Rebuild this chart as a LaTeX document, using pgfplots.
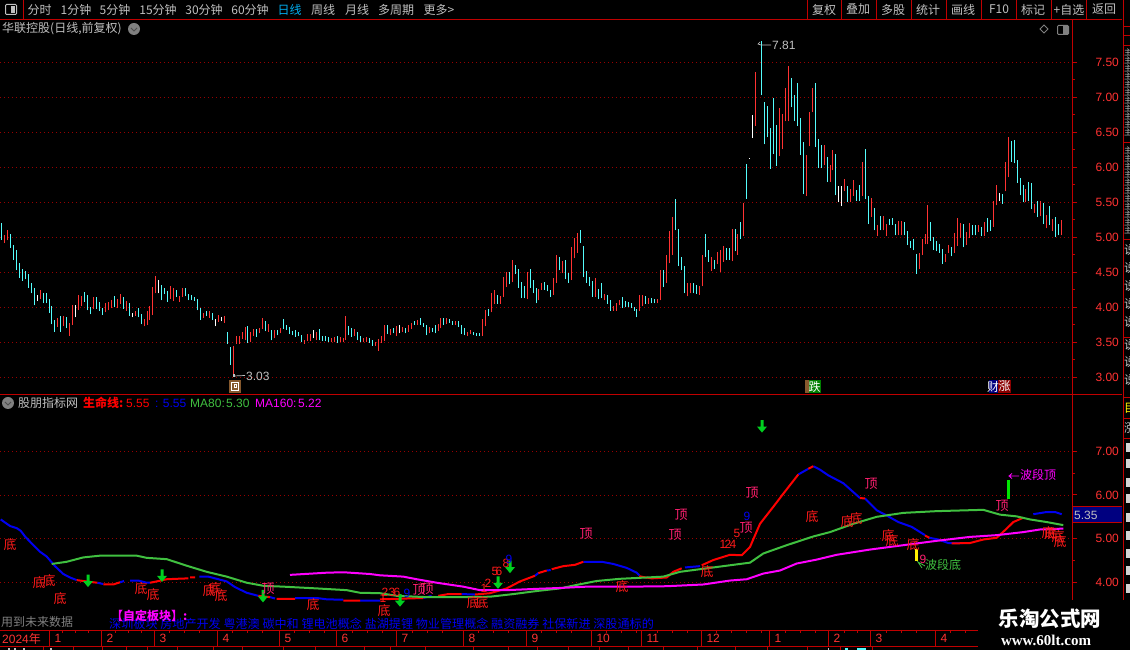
\documentclass[border=0pt]{standalone}
\usepackage{fontspec}
\usepackage{pgfplots}
\usepackage{pgfplotstable}
\pgfplotsset{compat=1.18}
\setmainfont{Liberation Sans}
\newfontfamily\cjk{Noto Sans CJK SC}
\newfontfamily\lib{Liberation Sans}
\newfontfamily\libs{Liberation Serif}
\definecolor{axred}{HTML}{C00000}
\definecolor{gridred}{HTML}{980000}
\definecolor{lblred}{HTML}{FF3232}
\definecolor{kred}{HTML}{FF3232}
\definecolor{kcyan}{HTML}{54FCFC}
\definecolor{lgreen}{HTML}{40C040}
\definecolor{lblue}{HTML}{0000F0}
\definecolor{lmag}{HTML}{FF00FF}
\definecolor{txtgray}{HTML}{C0C0C0}
\definecolor{ding}{HTML}{FF2070}
\definecolor{di}{HTML}{FF1A1A}
\definecolor{arrowgreen}{HTML}{00D020}
\pgfdeclareplotmark{dnarrow}{%
  \pgfpathmoveto{\pgfqpoint{0pt}{0pt}}
  \pgfpathlineto{\pgfqpoint{-5pt}{6pt}}
  \pgfpathlineto{\pgfqpoint{-1.5pt}{6pt}}
  \pgfpathlineto{\pgfqpoint{-1.5pt}{12.5pt}}
  \pgfpathlineto{\pgfqpoint{1.5pt}{12.5pt}}
  \pgfpathlineto{\pgfqpoint{1.5pt}{6pt}}
  \pgfpathlineto{\pgfqpoint{5pt}{6pt}}
  \pgfpathclose
  \pgfusepathqfill}

\pgfplotstableread{
x lo hi
4.5 4.92 5.03
7.5 4.96 5.11
40.5 4.12 4.25
57.5 3.72 3.85
63.5 3.73 3.88
69.5 3.59 3.78
72.5 3.75 4.03
78.5 3.96 4.18
81.5 4.02 4.16
93.5 3.98 4.15
105.5 3.93 4.06
108.5 3.96 4.08
111.5 3.99 4.10
117.5 3.99 4.12
120.5 4.05 4.19
126.5 3.95 4.09
135.5 3.88 3.95
144.5 3.73 3.83
147.5 3.75 3.95
149.5 3.82 4.02
152.5 3.89 4.29
155.5 4.20 4.45
170.5 4.12 4.30
173.5 4.09 4.28
179.5 4.08 4.16
182.5 4.15 4.28
203.5 3.85 3.92
209.5 3.85 3.95
218.5 3.79 3.89
224.5 3.78 3.88
233.5 3.03 3.45
236.5 3.48 3.59
239.5 3.48 3.59
242.5 3.55 3.65
245.5 3.53 3.72
250.5 3.50 3.65
253.5 3.59 3.69
259.5 3.63 3.70
262.5 3.69 3.85
268.5 3.65 3.76
274.5 3.56 3.68
280.5 3.63 3.70
304.5 3.48 3.53
307.5 3.52 3.62
310.5 3.52 3.62
316.5 3.53 3.65
331.5 3.50 3.56
334.5 3.50 3.58
340.5 3.50 3.58
343.5 3.50 3.56
345.5 3.53 3.88
354.5 3.59 3.69
363.5 3.50 3.56
366.5 3.50 3.58
375.5 3.45 3.50
378.5 3.38 3.55
381.5 3.49 3.59
384.5 3.52 3.75
390.5 3.60 3.69
396.5 3.59 3.73
402.5 3.65 3.72
408.5 3.65 3.75
411.5 3.69 3.78
417.5 3.75 3.82
429.5 3.63 3.72
438.5 3.66 3.76
440.5 3.70 3.85
446.5 3.76 3.85
455.5 3.75 3.80
467.5 3.59 3.65
470.5 3.62 3.68
482.5 3.59 3.83
485.5 3.73 3.96
491.5 3.93 4.20
494.5 4.05 4.25
500.5 4.05 4.16
503.5 4.15 4.43
506.5 4.29 4.50
512.5 4.36 4.68
527.5 4.12 4.50
538.5 4.10 4.26
541.5 4.25 4.35
553.5 4.18 4.42
556.5 4.35 4.75
562.5 4.49 4.66
571.5 4.39 4.86
574.5 4.70 4.99
577.5 4.78 5.06
595.5 4.15 4.42
604.5 4.10 4.19
613.5 3.95 4.02
616.5 3.95 4.06
619.5 4.03 4.10
639.5 3.95 4.18
642.5 4.02 4.18
648.5 4.05 4.13
657.5 4.06 4.12
660.5 4.10 4.53
666.5 4.35 4.75
669.5 4.63 5.09
672.5 4.75 5.29
687.5 4.16 4.35
690.5 4.20 4.35
699.5 4.18 4.30
702.5 4.30 4.75
711.5 4.52 4.72
717.5 4.62 4.79
720.5 4.50 4.82
723.5 4.65 4.88
732.5 4.66 5.12
737.5 4.75 5.05
743.5 5.02 5.49
755.5 6.59 7.36
779.5 6.16 6.85
782.5 6.26 6.76
785.5 6.66 7.13
788.5 6.66 7.45
806.5 5.59 6.18
809.5 6.30 6.79
812.5 6.79 7.13
824.5 6.03 6.32
830.5 5.79 6.03
832.5 5.96 6.25
844.5 5.66 5.83
850.5 5.50 5.69
853.5 5.59 5.82
862.5 5.59 6.08
871.5 5.29 5.56
877.5 5.02 5.18
883.5 5.10 5.30
886.5 5.02 5.19
898.5 5.03 5.23
901.5 5.03 5.23
919.5 4.55 4.78
922.5 4.75 4.98
925.5 4.90 5.05
927.5 4.90 5.46
945.5 4.65 4.76
948.5 4.78 4.89
954.5 4.78 5.06
957.5 4.88 5.28
960.5 4.99 5.20
966.5 4.89 5.08
969.5 4.99 5.20
978.5 5.08 5.18
984.5 5.02 5.22
993.5 5.15 5.52
996.5 5.46 5.75
1005.5 5.66 6.08
1008.5 5.86 6.43
1025.5 5.50 5.69
1034.5 5.35 5.48
1040.5 5.30 5.52
1046.5 5.13 5.32
1052.5 5.09 5.26
1061.5 5.03 5.25
}\kred
\pgfplotstableread{
x lo hi
1.5 4.97 5.21
10.5 4.85 5.05
13.5 4.68 4.89
16.5 4.53 4.82
19.5 4.42 4.63
22.5 4.38 4.55
25.5 4.40 4.52
28.5 4.28 4.48
31.5 4.20 4.35
34.5 4.03 4.28
43.5 4.06 4.20
46.5 4.06 4.20
49.5 3.92 4.12
51.5 3.76 4.02
54.5 3.65 3.82
60.5 3.65 3.88
66.5 3.70 3.86
84.5 4.08 4.22
87.5 3.96 4.18
90.5 3.90 4.00
96.5 3.98 4.15
99.5 3.95 4.08
102.5 3.89 3.99
114.5 4.00 4.16
123.5 3.98 4.15
129.5 3.88 4.06
138.5 3.86 3.99
141.5 3.76 3.90
161.5 4.10 4.32
164.5 4.19 4.28
167.5 4.08 4.23
176.5 4.15 4.25
185.5 4.16 4.28
188.5 4.10 4.19
191.5 4.10 4.18
194.5 4.09 4.15
197.5 3.96 4.12
200.5 3.82 3.99
206.5 3.88 3.95
212.5 3.82 3.92
227.5 3.48 3.65
230.5 3.18 3.43
247.5 3.49 3.73
256.5 3.58 3.69
265.5 3.66 3.80
271.5 3.53 3.68
277.5 3.60 3.68
283.5 3.69 3.83
286.5 3.68 3.75
289.5 3.62 3.72
292.5 3.60 3.66
295.5 3.58 3.68
298.5 3.59 3.65
301.5 3.50 3.60
319.5 3.53 3.69
322.5 3.52 3.59
325.5 3.52 3.59
328.5 3.50 3.58
337.5 3.49 3.59
348.5 3.60 3.73
351.5 3.58 3.70
357.5 3.53 3.65
360.5 3.50 3.59
369.5 3.49 3.56
372.5 3.45 3.53
387.5 3.62 3.75
393.5 3.63 3.70
405.5 3.63 3.70
414.5 3.75 3.80
420.5 3.75 3.85
423.5 3.72 3.78
426.5 3.60 3.75
432.5 3.65 3.70
435.5 3.63 3.75
443.5 3.75 3.85
449.5 3.78 3.83
452.5 3.75 3.80
458.5 3.72 3.80
461.5 3.62 3.75
464.5 3.60 3.70
473.5 3.60 3.65
476.5 3.59 3.63
479.5 3.59 3.63
488.5 3.88 3.98
497.5 4.05 4.18
509.5 4.33 4.50
515.5 4.48 4.60
518.5 4.28 4.55
521.5 4.13 4.36
524.5 4.13 4.30
530.5 4.28 4.55
533.5 4.20 4.39
536.5 4.06 4.28
544.5 4.25 4.36
547.5 4.23 4.32
550.5 4.15 4.25
559.5 4.53 4.72
565.5 4.40 4.68
568.5 4.35 4.49
580.5 4.92 5.10
583.5 4.43 4.88
586.5 4.35 4.52
589.5 4.30 4.43
592.5 4.15 4.38
598.5 4.12 4.26
601.5 4.13 4.35
607.5 4.05 4.18
610.5 3.95 4.10
622.5 3.99 4.15
625.5 4.00 4.09
628.5 4.00 4.08
631.5 3.99 4.06
634.5 3.95 4.00
636.5 3.86 3.98
645.5 4.05 4.16
651.5 4.06 4.13
654.5 4.06 4.12
663.5 4.29 4.53
675.5 5.10 5.55
678.5 4.59 5.12
681.5 4.53 4.72
684.5 4.20 4.59
693.5 4.20 4.35
696.5 4.19 4.32
705.5 4.72 5.05
708.5 4.65 4.82
714.5 4.55 4.68
726.5 4.68 4.85
729.5 4.68 4.85
735.5 4.80 5.12
740.5 4.98 5.22
746.5 5.55 6.05
761.5 7.03 7.81
764.5 6.33 6.93
767.5 6.43 6.88
770.5 5.98 6.56
773.5 6.19 6.99
776.5 6.02 6.60
791.5 6.86 7.28
794.5 6.66 7.03
797.5 6.59 7.20
800.5 6.18 6.70
803.5 5.62 6.36
815.5 6.29 7.20
818.5 5.99 6.40
821.5 5.99 6.32
827.5 5.79 6.15
835.5 5.60 6.19
847.5 5.50 5.73
856.5 5.52 5.68
859.5 5.52 5.75
865.5 5.55 6.26
868.5 5.19 5.59
874.5 5.10 5.42
880.5 5.10 5.30
889.5 5.18 5.26
892.5 5.18 5.28
895.5 5.03 5.19
904.5 5.03 5.22
907.5 4.89 5.09
910.5 4.85 4.95
913.5 4.82 4.98
916.5 4.48 4.76
930.5 4.95 5.22
933.5 4.82 5.00
936.5 4.80 4.95
939.5 4.78 4.90
942.5 4.62 4.83
951.5 4.73 4.86
963.5 4.86 5.19
972.5 5.03 5.18
975.5 5.03 5.18
981.5 5.02 5.15
987.5 5.08 5.28
990.5 5.09 5.25
1002.5 5.48 5.62
1011.5 6.08 6.38
1014.5 6.06 6.39
1017.5 5.78 6.10
1020.5 5.60 5.85
1023.5 5.50 5.75
1028.5 5.52 5.79
1031.5 5.40 5.78
1037.5 5.29 5.52
1043.5 5.19 5.49
1049.5 5.18 5.45
1055.5 5.00 5.29
1058.5 5.03 5.19
}\kcy
\pgfplotstableread{
x lo hi
37.5 4.09 4.18
75.5 3.86 4.03
132.5 3.86 3.92
158.5 4.20 4.39
215.5 3.73 3.83
221.5 3.80 3.86
313.5 3.56 3.68
399.5 3.63 3.75
749.5 6.12 6.14
752.5 6.42 6.75
838.5 5.50 5.73
841.5 5.45 5.73
999.5 5.52 5.63
}\kwh

\pgfplotstableread{
x y
0.7 5.44
5 5.37
10 5.29
16.7 5.24
20.7 5.18
25 5.05
31.7 4.89
40 4.70
46.7 4.59
55 4.37
63.3 4.19
70 4.11
76.7 4.05
nan nan
97.3 3.99
103.3 3.96
nan nan
120 4.00
124 4.03
nan nan
130 4.04
138.3 4.04
146.7 3.99
150 3.99
nan nan
199.3 4.13
208.3 4.13
216.7 4.08
226.7 4.02
235 3.89
246.7 3.76
258.3 3.69
nan nan
270 3.66
275 3.63
nan nan
295 3.64
316.7 3.64
326.7 3.61
343.3 3.60
nan nan
360 3.58
380 3.58
nan nan
423.3 3.64
431.7 3.69
nan nan
461.7 3.73
475 3.72
nan nan
535 4.15
538.3 4.21
nan nan
546.7 4.27
550.7 4.28
nan nan
583.3 4.47
601.7 4.47
613.3 4.42
626.7 4.33
636.7 4.22
639.3 4.16
nan nan
685 4.34
700 4.37
nan nan
798.3 6.47
808.3 6.60
nan nan
813.3 6.66
820 6.58
828.3 6.45
843.3 6.27
860 5.93
nan nan
865 5.92
876.7 5.65
886.7 5.53
898.3 5.38
911.7 5.27
925 5.08
nan nan
929.3 5.02
938.3 4.98
948.3 4.90
963.3 4.90
nan nan
1033.3 5.56
1046.7 5.61
1055 5.61
1061.7 5.56
}\lifeblue
\pgfplotstableread{
x y
76.7 4.05
83.3 4.03
90 4.01
97.3 3.99
nan nan
103.3 3.95
113.3 3.95
120 4.00
nan nan
150 3.99
156.7 4.02
166.7 4.07
176.7 4.08
188.3 4.09
nan nan
190 4.11
195 4.11
nan nan
258.3 3.69
270 3.66
nan nan
276.7 3.62
295 3.62
nan nan
343.3 3.58
360 3.58
nan nan
380 3.61
423.3 3.64
nan nan
438.3 3.69
448.3 3.73
461.7 3.73
nan nan
475 3.72
490 3.75
506.7 3.86
520 4.02
535 4.15
nan nan
538.3 4.21
546.7 4.27
nan nan
551.7 4.30
563.3 4.37
575 4.40
583.3 4.47
nan nan
639.3 4.14
643.3 4.12
651.7 4.09
666.7 4.11
673.3 4.24
681.7 4.32
nan nan
701.7 4.39
713.3 4.51
730 4.63
741.7 4.62
750 4.81
760 5.34
773.3 5.73
783.3 6.03
798.3 6.47
nan nan
808.3 6.60
813.3 6.66
nan nan
860 5.93
865 5.92
nan nan
925 5.07
929.3 5.02
nan nan
951.7 4.89
970 4.90
983.3 4.98
996.7 5.02
1006.7 5.23
1013.3 5.38
1023.3 5.48
}\lifered
\pgfplotstableread{
x y
51.7 4.42
66.7 4.47
83.3 4.57
100 4.61
136.7 4.61
146.7 4.56
166.7 4.53
186.7 4.38
206.7 4.24
226.7 4.13
246.7 3.99
263.3 3.92
283.3 3.90
316.7 3.86
346.7 3.82
360 3.76
380 3.75
396.7 3.69
426.7 3.66
463.3 3.66
490 3.67
513.3 3.73
536.7 3.80
560 3.86
576.7 3.94
596.7 4.03
620 4.08
646.7 4.11
663.3 4.13
680 4.24
713.3 4.34
750 4.45
763.3 4.66
786.7 4.85
813.3 5.05
830 5.15
853.3 5.34
876.7 5.50
903.3 5.59
936.7 5.63
983.3 5.66
1000 5.55
1016.7 5.51
1030 5.44
1046.7 5.38
1063.3 5.31
}\maeighty
\pgfplotstableread{
x y
290 4.17
326.7 4.22
343.3 4.23
370 4.19
380 4.16
403.3 4.13
416.7 4.07
436.7 3.99
463.3 3.90
480 3.82
506.7 3.82
536.7 3.85
560 3.87
586.7 3.90
630 3.90
666.7 3.91
703.3 3.95
730 4.04
746.7 4.07
763.3 4.20
780 4.27
796.7 4.43
816.7 4.52
836.7 4.63
870 4.75
903.3 4.85
936.7 4.95
970 5.04
996.7 5.08
1023.3 5.15
1040 5.21
1063.3 5.23
}\maonesixty
\pgfplotstableread{
x y
88 3.89
162 4.01
263 3.54
400 3.44
498 3.85
510 4.21
762 7.43
}\arrows

\pgfplotsset{
  panel/.style={
    scale only axis, anchor=south west, width=1072pt, xmin=0, xmax=1072,
    axis line style={draw=none},
    ytick pos=right, yticklabel pos=right, tick align=outside,
    major tick length=5pt, minor tick length=3pt,
    every tick/.append style={axred, line width=1pt},
    minor y tick num=1,
    ymajorgrids, major grid style={gridred, line width=0.7pt, dash pattern=on 1pt off 3pt},
    yticklabel style={text=lblred, font=\lib\fontsize{12}{12}\selectfont, anchor=west, xshift=15pt,
      /pgf/number format/.cd, fixed, fixed zerofill, precision=2, assume math mode=true},
  },
  kbar/.style={draw=none, mark=none, forget plot,
    error bars/.cd, y dir=plus, y explicit, error mark=none,
    error bar style={line width=1pt, color=#1}},
}
\newcommand\Lbl[4]{\node[text=#1,inner sep=0pt,anchor=center] at (#2,#3) {#4};}
\newcommand\Lft[4]{\node[text=#1,inner sep=0pt,anchor=west] at (#2,#3) {#4};}

\begin{document}
\begin{tikzpicture}[every node/.style={font=\cjk\fontsize{12}{13}\selectfont}]
\useasboundingbox (0pt,0pt) rectangle (1130pt,650pt);
\fill[black] (0pt,0pt) rectangle (1130pt,650pt);

\begin{axis}[panel, at={(0pt,256pt)}, height=375pt, ymin=2.7643, ymax=8.1214,
  ytick={3,3.5,4,4.5,5,5.5,6,6.5,7,7.5}, xtick=\empty]
\addplot[kbar=kred] table[x=x,y=lo,y error plus expr=\thisrow{hi}-\thisrow{lo}] {\kred};
\addplot[kbar=kcyan] table[x=x,y=lo,y error plus expr=\thisrow{hi}-\thisrow{lo}] {\kcy};
\addplot[kbar=white] table[x=x,y=lo,y error plus expr=\thisrow{hi}-\thisrow{lo}] {\kwh};
\end{axis}

\begin{axis}[panel, at={(0pt,20pt)}, height=236pt, ymin=2.9072, ymax=8.3139,
  ytick={4,5,6,7},
  xtick={49,101,154,217,279,336,396,463,526,591,641,701,769,828,870,935},
  xticklabels={1,2,3,4,5,6,7,8,9,10,11,12,1,2,3,4},
  xtick pos=bottom,
  major x tick style={draw=none},
  xticklabel style={text=lblred, font=\lib\fontsize{12}{12}\selectfont, anchor=west, yshift=-3.5pt, xshift=2pt},
  unbounded coords=jump]
\addplot[draw=lblue, line width=2pt, line join=round] table[x=x,y=y] {\lifeblue};
\addplot[draw=red, line width=2pt, line join=round] table[x=x,y=y] {\lifered};
\addplot[draw=lgreen, line width=2pt, line join=round] table[x=x,y=y] {\maeighty};
\addplot[draw=lmag, line width=2pt, line join=round] table[x=x,y=y] {\maonesixty};
\addplot[only marks, mark=dnarrow, color=arrowgreen] table[x=x,y=y] {\arrows};
\addplot[draw=green!90!black, line width=3pt] coordinates {(1008.5,5.91)(1008.5,6.34)};
\addplot[draw=yellow, line width=3pt] coordinates {(916.5,4.49)(916.5,4.76)};
\end{axis}

\begin{scope}[x=1pt,y=-1pt,shift={(0pt,650pt)}]
% frame
\draw[axred,line width=1pt] (0,19.5)--(1122,19.5);
\draw[axred,line width=1.2pt] (0,394.5)--(1122,394.5);
\draw[axred,line width=1pt] (1072.5,19.5)--(1072.5,600);
\draw[axred,line width=1pt] (0,630.5)--(978,630.5);
\draw[axred,line width=1pt] (0,646.5)--(978,646.5);
\draw[axred,line width=1pt] (1123.5,0)--(1123.5,600);
\foreach \x in {49,101,154,217,279,336,396,463,526,591,641,701,769,828,870,935} \draw[axred,line width=1pt] (\x.5,630)--(\x.5,646);
\foreach \x in {62,75,88,115,128,141,169,184,199,232,247,262,294,309,324,352,367,382,412,427,442,478,493,508,541,556,571,606,621,636,657,672,687,716,731,746,761,785,800,815,844,857,886,901,916,950,965} \draw[axred,line width=1pt] (\x.5,630)--(\x.5,633);
\foreach \x in {43,73,102,126,147,177,213,242,283,315,364,390,425,473,508,537,568,599,628,663,697,735,767,807,840,872} \draw[axred,line width=1pt] (\x.5,646)--(\x.5,650);
\fill[txtgray] (8,648) rectangle (10,650);
\fill[txtgray] (14,648) rectangle (16,650);
\fill[txtgray] (23,648) rectangle (25,650);
\fill[txtgray] (50,648) rectangle (52,650);
\fill[txtgray] (828,648) rectangle (829,650);
\fill[kcyan] (845,648) rectangle (848,650);
\fill[kcyan] (857,648) rectangle (866,650);
\foreach \x in {23,807,841,876,911,946,981,1016,1051,1086} \draw[axred,line width=1pt] (\x.5,0)--(\x.5,19);
\foreach \y in {26,35,45,142,239,337,397,418,438} \draw[axred,line width=1pt] (1123,\y.5)--(1130,\y.5);
% right-hand list, cut by the edge of the window
\begin{scope}
\clip (1124,0) rectangle (1130,650);
\foreach \y in {52,60,68,76,84,92,100,108,116,124,132,150,158,166,174,182,190,198,206,214,222,230}
  \node[text=txtgray,anchor=west,inner sep=0pt,font=\cjk\fontsize{8}{8}\selectfont] at (1124,\y) {主};
\foreach \y in {250,268,286,304,322,345,362,380}
  \node[text=txtgray,anchor=west,inner sep=0pt] at (1124,\y) {说};
\node[text=yellow,anchor=west,inner sep=0pt] at (1124,408) {目};
\node[text=txtgray,anchor=west,inner sep=0pt] at (1124,428) {涨};
\end{scope}
\foreach \y in {447,463,482,498,517,535,553,570,588}
  \fill[txtgray!70!white] (1126,\y-4) rectangle (1130,\y+5);
\draw[txtgray,line width=1pt,rounded corners=1pt] (5.5,4.5) rectangle (16.5,14.5);
\fill[txtgray] (11,6) rectangle (15,13);
\Lbl{txtgray}{39.6}{9.5}{分时}
\Lbl{txtgray}{76}{9.5}{1分钟}
\Lbl{txtgray}{115}{9.5}{5分钟}
\Lbl{txtgray}{158}{9.5}{15分钟}
\Lbl{txtgray}{204}{9.5}{30分钟}
\Lbl{txtgray}{250}{9.5}{60分钟}
\Lbl{cyan}{289.5}{9.5}{日线}
\Lbl{txtgray}{323}{9.5}{周线}
\Lbl{txtgray}{357}{9.5}{月线}
\Lbl{txtgray}{396}{9.5}{多周期}
\Lbl{txtgray}{439}{9.5}{更多>}
\Lbl{txtgray}{824}{9.5}{复权}
\Lbl{txtgray}{858}{9.5}{叠加}
\Lbl{txtgray}{893}{9.5}{多股}
\Lbl{txtgray}{928}{9.5}{统计}
\Lbl{txtgray}{963}{9.5}{画线}
\Lbl{txtgray}{999}{9.5}{F10}
\Lbl{txtgray}{1033}{9.5}{标记}
\Lbl{txtgray}{1069}{9.5}{+自选}
\Lbl{txtgray}{1104}{9.5}{返回}
\Lft{txtgray}{2}{29}{华联控股(日线,前复权)}
\fill[gray] (134,29) circle (6);
\draw[black!70,line width=1pt] (131,28)--(134,31)--(137,28);
\draw[gray,line width=.8pt] (1044,25)--(1048,29)--(1044,33)--(1040,29)--cycle;
\draw[gray,line width=1pt,rounded corners=1pt] (1057.5,25.5) rectangle (1068.5,34.5);
\fill[gray] (1063,26) rectangle (1068,34);
% high / low notes
\draw[txtgray,line width=.7pt] (760,42)--(758,44)--(761,45)--(771,45);
\Lft{txtgray}{772}{45}{\lib 7.81}
\draw[txtgray,line width=.7pt] (234,376)--(245,375.5);
\fill[txtgray] (233,374) rectangle (235,377);
\Lft{txtgray}{246}{376.5}{\lib 3.03}
\fill[brown!70!black] (229,380) rectangle (241,393);
\draw[white,line width=1pt] (231.5,382.5) rectangle (238.5,390.5);
\draw[white,line width=1pt] (234,385) rectangle (236,388);
\fill[brown!70!black] (805,380) rectangle (809,393);
\fill[green!50!black] (809,380) rectangle (821,393);
\Lbl{white}{814.5}{386.5}{跌}
\fill[blue!50!black] (989,380) rectangle (998,393);
\fill[red!55!black] (998,380) rectangle (1011,393);
\Lbl{white}{993}{386.5}{财}
\Lbl{white}{1004.5}{386.5}{涨}
% lower legend
\fill[gray] (8,403) circle (6);
\draw[black!70,line width=1pt] (5,402)--(8,405)--(11,402);
\Lft{txtgray}{18}{403}{股朋指标网}
\Lft{red}{83}{403}{\bfseries 生命线:}
\Lft{red}{126}{403}{\lib 5.55}
\Lft{lblue}{155}{403}{\lib : 5.55}
\Lft{lgreen}{190}{403}{\lib MA80:}
\Lft{lgreen}{226}{403}{\lib 5.30}
\Lft{lmag}{255}{403}{\lib MA160:}
\Lft{lmag}{298}{403}{\lib 5.22}
% signals
\begin{scope}[every node/.append style={font=\cjk\fontsize{13}{13}\selectfont}]
\foreach \x/\y in {10/545,39/583,49/581,60/599,141/589,153/595,209/591,215/589,221/596,313/605,384/611,473/603,482/603,622/587,707/572,812/517,847/522,856/519,888/536,892/541,913/545,1048/533,1051/534,1058/537,1060/542} \Lbl{di}{\x}{\y}{底};
\foreach \x/\y in {268/589,419/590,427/589,586/534,675/535,681/515,746/528,752/493,871/484,1002/506} \Lbl{ding}{\x}{\y}{顶};
\end{scope}
\foreach \x/\y/\t in {383/598/1,385/592/2,392/592/3,397/592/6,488/583/2,484/588/1,495/571/5,499/571/6,506/563/8,723/544/1,728/544/2,733/544/4,737/533/5} \Lbl{di}{\x}{\y}{\lib\t};
\Lbl{lblue}{407}{593}{\lib 9}
\Lbl{lblue}{509}{559}{\lib 9}
\Lbl{lblue}{747}{516}{\lib 9}
\Lbl{ding}{923}{559}{\lib 9}
\draw[lgreen,line width=.8pt] (925,566)--(918,562)--(922,568);
\Lft{lgreen}{925}{565}{波段底}
\draw[lmag,line width=.8pt] (1019,476)--(1009,476) (1012,473.5)--(1009,476)--(1012,478.5);
\Lft{lmag}{1020}{475}{波段顶}
% current value box
\fill[blue!50!black] (1073,507) rectangle (1122,523);
\draw[axred,line width=1pt] (1073,507)--(1122,507);
\draw[axred,line width=1pt] (1073,523)--(1122,523);
\Lft{txtgray}{1074}{515}{\lib 5.35}
% bottom text
\Lft{lblue}{109}{624}{\fontsize{12.1}{13}\selectfont 深圳板块 房地产开发 粤港澳 碳中和 锂电池概念 盐湖提锂 物业管理概念 融资融券 社保新进 深股通标的}
\Lft{lmag}{111}{616}{\bfseries 【自定板块】:}
\Lft{gray}{1}{622}{用到未来数据}
\Lft{lblred}{2}{638.5}{{\lib 2024}年}
% watermark
\fill[black] (979,600) rectangle (1130,650);
\Lbl{white}{1050}{619}{\bfseries\fontsize{20.5}{22}\selectfont 乐淘公式网}
\Lbl{white}{1046}{640}{\libs\bfseries\fontsize{15}{15}\selectfont www.60lt.com}
\end{scope}
\end{tikzpicture}
\end{document}
